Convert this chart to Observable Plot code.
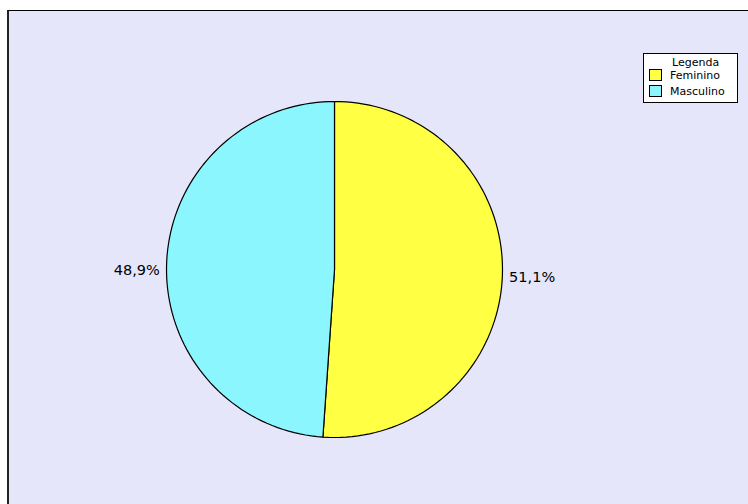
<!DOCTYPE html>
<html>
<head>
<meta charset="utf-8">
<script src="https://cdn.jsdelivr.net/npm/d3@7"></script>
<script src="https://cdn.jsdelivr.net/npm/@observablehq/plot@0.6"></script>
<style>
  html, body { margin: 0; padding: 0; background: #ffffff; }
  #wrap { position: relative; width: 748px; height: 504px; overflow: hidden; font-family: "DejaVu Sans", Verdana, sans-serif; }
  #bg { position: absolute; left: 7px; top: 10px; right: 0; bottom: 0; background: #e6e6fa; border-top: 1px solid #000; border-left: 2px solid #222; }
  #chart { position: absolute; left: 0; top: 0; }
  #legend { position: absolute; left: 643px; top: 53px; width: 95px; height: 50px; background: #fff; border: 1px solid #000; box-sizing: border-box; font-size: 11px; color: #000; }
  #legend .title { position: absolute; left: 28px; top: 2px; }
  #legend .item { position: absolute; left: 5px; height: 13px; line-height: 13px; }
  #legend .sw { display: inline-block; width: 11px; height: 10px; border: 1px solid #000; vertical-align: middle; margin-right: 8px; position: relative; top: -1px; }
</style>
</head>
<body>
<div id="wrap">
  <div id="bg"></div>
  <div id="chart"></div>
  <div id="legend"></div>
</div>
<script>
const categories = ["Feminino", "Masculino"];
const values = [51.1, 48.9];
const labels = ["51,1%", "48,9%"];
const colors = ["#ffff44", "#8cf6ff"];
const legendTitle = "Legenda";

// build slice polygons (clockwise from 12 o'clock), in unit-circle data space
const total = d3.sum(values);
const slices = [];
const labelPts = [];
let start = 0;
categories.forEach((name, i) => {
  const a0 = start / total * 2 * Math.PI;
  const a1 = (start + values[i]) / total * 2 * Math.PI;
  slices.push({name, x: 0, y: 0});
  const n = Math.max(2, Math.ceil((a1 - a0) / (Math.PI / 90)));
  for (let k = 0; k <= n; k++) {
    const a = a0 + (a1 - a0) * k / n;
    slices.push({name, x: Math.sin(a), y: Math.cos(a)});
  }
  slices.push({name, x: 0, y: 0});
  const am = (a0 + a1) / 2;
  const r = 1.04;
  labelPts.push({name, label: labels[i], x: r * Math.sin(am), y: r * Math.cos(am), right: Math.sin(am) >= 0});
  start += values[i];
});

const plot = Plot.plot({
  width: 748,
  height: 504,
  marginLeft: 166,
  marginRight: 246,
  marginTop: 101,
  marginBottom: 67,
  x: {domain: [-1, 1], axis: null},
  y: {domain: [-1, 1], axis: null},
  color: {domain: categories, range: colors},
  style: {background: "transparent", fontFamily: "'DejaVu Sans', Verdana, sans-serif", overflow: "visible"},
  marks: [
    Plot.line(slices, {x: "x", y: "y", z: "name", fill: "name", stroke: "#000", strokeWidth: 1.2, curve: "linear"}),
    Plot.text(labelPts.filter(d => d.right), {x: "x", y: "y", text: "label", textAnchor: "start", dy: 2, fontSize: 14.5, fill: "#000"}),
    Plot.text(labelPts.filter(d => !d.right), {x: "x", y: "y", text: "label", textAnchor: "end", dy: 7, fontSize: 14.5, fill: "#000"})
  ]
});
document.getElementById("chart").appendChild(plot);

const legend = document.getElementById("legend");
const t = document.createElement("div");
t.className = "title";
t.textContent = legendTitle;
legend.appendChild(t);
categories.forEach((c, i) => {
  const it = document.createElement("div");
  it.className = "item";
  it.style.top = (15 + i * 16) + "px";
  const sw = document.createElement("span");
  sw.className = "sw";
  sw.style.background = colors[i];
  it.appendChild(sw);
  it.appendChild(document.createTextNode(c));
  legend.appendChild(it);
});
</script>
</body>
</html>
